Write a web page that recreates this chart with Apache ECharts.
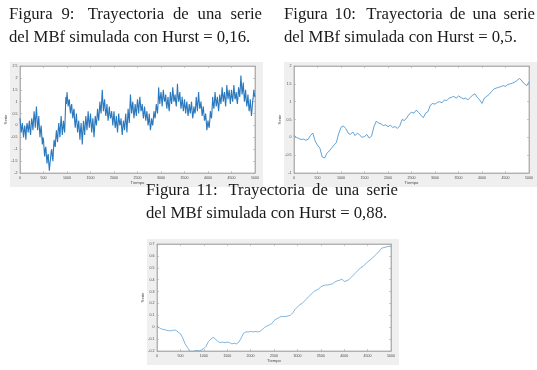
<!DOCTYPE html>
<html><head><meta charset="utf-8">
<script src="https://cdn.jsdelivr.net/npm/echarts@6/dist/echarts.min.js"></script>
<style>html,body{margin:0;padding:0;background:#fff}#c{width:537px;height:370px}</style>
</head><body><div id="c"></div>
<script>
// ---------- data ----------
const timeMax = 5000;
const xTickStep = 500;
// Figure 9: Hurst = 0.16, one value every 12.5 time units
const fig9Step = 12.5;
const fig9Values = [
 0.3,0.0,-0.3,-0.1,0.1,-0.2,-0.5,-0.2,0.0,-0.3,-0.6,-0.1,0.1,-0.1,-0.3,0.0,0.2,-0.2,-0.4,0.0,0.3,0.1,-0.2,0.2,0.6,0.3,-0.1,0.4,0.8,0.3,-0.2,0.1,0.4,-0.1,-0.5,-0.2,0.0,-0.4,-0.8,-0.5,
 -0.6,-1.0,-1.3,-1.0,-0.9,-1.3,-1.6,-1.3,-1.2,-1.6,-1.9,-1.6,-1.4,-1.1,-1.0,-1.3,-1.5,-1.0,-0.6,-0.8,-0.9,-0.5,-0.2,-0.5,-0.7,-0.2,0.1,-0.2,-0.5,0.0,0.4,0.0,-0.4,-0.1,0.2,-0.1,-0.3,0.4,1.2,0.9,
 1.4,1.1,0.8,1.0,1.1,0.7,0.5,0.8,0.9,0.5,0.3,0.6,0.7,0.2,-0.1,0.2,0.5,0.1,-0.3,0.0,0.2,-0.2,-0.6,-0.2,0.1,-0.3,-0.8,-0.3,0.2,-0.1,-0.4,0.0,0.4,0.1,-0.2,0.2,0.6,0.2,-0.1,0.2,
 0.5,0.1,-0.3,0.0,0.3,-0.1,-0.5,-0.1,0.4,0.2,0.0,0.3,0.7,0.4,0.2,0.6,1.0,0.7,0.5,1.0,1.5,1.0,0.6,0.9,1.1,0.7,0.4,0.6,0.9,0.5,0.2,0.5,0.8,0.5,0.3,0.4,0.6,0.3,0.0,0.3,
 0.6,0.2,-0.1,0.1,0.4,0.0,-0.3,0.1,0.5,0.2,0.0,0.1,0.3,-0.1,-0.4,-0.1,0.2,0.0,-0.2,0.2,0.5,0.1,-0.3,0.2,0.7,0.4,0.1,0.7,1.3,0.9,0.5,0.8,1.0,0.6,0.3,0.6,0.9,0.6,0.4,0.8,
 1.1,0.8,0.5,0.9,1.2,0.9,0.6,0.7,0.9,0.6,0.3,0.5,0.8,0.5,0.2,0.4,0.6,0.3,0.0,0.2,0.5,0.1,-0.2,0.0,0.3,0.1,0.0,0.3,0.6,0.4,0.3,0.6,0.9,0.7,0.5,0.9,1.6,1.2,0.9,1.2,
 1.4,1.1,0.8,1.2,1.5,1.2,1.0,1.1,1.3,0.9,0.7,1.0,1.2,0.8,0.6,1.0,1.4,1.1,0.9,1.2,1.6,1.3,1.0,1.1,1.3,1.0,0.8,1.2,1.75,1.3,1.0,1.2,1.4,1.0,0.7,0.9,1.2,0.9,0.6,0.8,
 1.1,0.8,0.5,0.8,1.0,0.7,0.4,0.6,0.9,0.7,0.5,0.8,1.0,0.6,0.3,0.5,0.8,0.6,0.5,0.8,1.2,0.9,0.6,1.0,1.4,1.0,0.7,0.8,1.0,0.7,0.4,0.6,0.8,0.5,0.2,0.3,0.5,0.2,-0.2,0.0,
 0.2,0.0,-0.1,0.2,0.6,0.4,0.3,0.7,1.2,0.9,0.7,1.0,1.4,1.1,0.8,1.0,1.2,0.9,0.6,0.9,1.3,1.1,0.9,1.2,1.6,1.3,1.0,1.2,1.4,1.1,0.8,1.2,1.7,1.4,1.1,1.3,1.5,1.2,0.9,1.2,
 1.5,1.2,1.0,1.3,1.7,1.4,1.1,1.2,1.4,1.1,0.9,1.2,1.6,1.4,1.2,1.6,2.1,1.7,1.3,1.5,1.8,1.4,1.0,1.2,1.5,1.1,0.8,1.0,1.3,0.9,0.6,0.8,1.1,0.7,0.4,0.7,1.0,1.2,1.5,1.3,
 1.2
];
// Figure 10: Hurst = 0.5, one value every 50 time units
const fig10Step = 50;
const fig10Values = [
 0.05,0.0,-0.03,-0.06,-0.05,-0.08,-0.06,0.05,0.12,-0.1,
 -0.22,-0.3,-0.55,-0.58,-0.45,-0.38,-0.3,-0.22,-0.15,0.1,
 0.28,0.32,0.25,0.12,0.08,0.15,0.05,0.12,0.06,0.0,
 0.02,0.08,-0.02,0.03,0.3,0.45,0.4,0.38,0.33,0.35,
 0.3,0.34,0.28,0.3,0.25,0.32,0.5,0.47,0.55,0.65,
 0.7,0.68,0.76,0.7,0.62,0.55,0.68,0.72,0.9,0.95,
 0.93,0.98,1.0,0.97,1.05,1.03,1.1,1.12,1.15,1.1,
 1.16,1.12,1.08,1.1,1.05,1.12,1.18,1.22,1.12,1.05,
 0.95,1.1,1.15,1.2,1.28,1.35,1.38,1.4,1.42,1.45,
 1.43,1.48,1.5,1.52,1.55,1.6,1.65,1.58,1.5,1.45,
 1.55
];
// Figure 11: Hurst = 0.88, one value every 50 time units
const fig11Step = 50;
const fig11Values = [
 0.01,-0.005,-0.015,-0.02,-0.025,-0.03,-0.03,-0.025,-0.025,-0.04,
 -0.055,-0.09,-0.14,-0.17,-0.2,-0.205,-0.2,-0.195,-0.2,-0.19,
 -0.18,-0.16,-0.12,-0.1,-0.085,-0.1,-0.12,-0.13,-0.125,-0.13,
 -0.125,-0.13,-0.14,-0.135,-0.14,-0.125,-0.09,-0.05,-0.04,-0.04,
 -0.035,-0.04,-0.035,-0.04,-0.035,-0.02,0.0,0.01,0.02,0.03,
 0.055,0.07,0.08,0.09,0.09,0.09,0.095,0.1,0.12,0.15,
 0.17,0.19,0.2,0.22,0.24,0.26,0.28,0.3,0.31,0.32,
 0.34,0.35,0.355,0.355,0.36,0.365,0.38,0.39,0.395,0.405,
 0.385,0.39,0.4,0.42,0.44,0.46,0.48,0.5,0.51,0.53,
 0.55,0.565,0.58,0.6,0.62,0.64,0.665,0.67,0.675,0.68,
 0.68
];
// y-axis ranges [min, max, interval]
const fig9YAxis = [-2, 2.5, 0.5];
const fig10YAxis = [-1, 2, 0.5];
const fig11YAxis = [-0.2, 0.7, 0.1];
const xAxisName = 'Tiempo';
const yAxisName = 'Serie';
const captions = [
  ['Figura 9: Trayectoria de una serie', 'del MBf simulada con Hurst = 0,16.'],
  ['Figura 10: Trayectoria de una serie', 'del MBf simulada con Hurst = 0,5.'],
  ['Figura 11: Trayectoria de una serie', 'del MBf simulada con Hurst = 0,88.']
];

// ---------- layout ----------
const grids = [
  {left: 20, top: 66, width: 235, height: 107},
  {left: 294, top: 66, width: 235, height: 107},
  {left: 157, top: 244, width: 234, height: 107}
];
const panels = [
  {x: 10, y: 62, width: 253, height: 125},
  {x: 284, y: 62, width: 253, height: 125},
  {x: 147, y: 239, width: 252, height: 126}
];
const captionBoxes = [
  {x0: 9, x1: 262, y: 15},
  {x0: 284, x1: 535, y: 15},
  {x0: 146, x1: 398, y: 191}
];
const lineGap = 23;
const capFont = '16.7px "Liberation Serif", "Times New Roman", serif';

const axisGrey = '#a8a8a8';
const labelColor = '#4a4a4a';

function toPairs(vals, step) { return vals.map((v, i) => [i * step, v]); }

const xAxes = [], yAxes = [];
function addAxes(gi, yr) {
  const base = {
    gridIndex: gi, type: 'value',
    axisLine: {show: true, onZero: false, lineStyle: {color: axisGrey, width: 0.8}},
    axisTick: {show: true, inside: true, length: 2, lineStyle: {color: axisGrey, width: 0.6}},
    splitLine: {show: false}
  };
  xAxes.push(Object.assign({}, base, {
    position: 'bottom', min: 0, max: timeMax, interval: xTickStep,
    axisLabel: {fontSize: 3.6, color: labelColor, margin: 2.5, formatter: v => String(v)},
    name: xAxisName, nameLocation: 'middle', nameGap: 7,
    nameTextStyle: {fontSize: 4.2, color: labelColor}
  }));
  xAxes.push(Object.assign({}, base, {
    position: 'top', min: 0, max: timeMax, interval: xTickStep,
    axisLabel: {show: false}
  }));
  yAxes.push(Object.assign({}, base, {
    position: 'left', min: yr[0], max: yr[1], interval: yr[2],
    axisLabel: {fontSize: 3.6, color: labelColor, margin: 2.5},
    name: yAxisName, nameLocation: 'middle', nameGap: 8, nameRotate: 90,
    nameTextStyle: {fontSize: 4.2, color: labelColor}
  }));
  yAxes.push(Object.assign({}, base, {
    position: 'right', min: yr[0], max: yr[1], interval: yr[2],
    axisLabel: {show: false}
  }));
}
addAxes(0, fig9YAxis);
addAxes(1, fig10YAxis);
addAxes(2, fig11YAxis);

// justified caption words
const mctx = document.createElement('canvas').getContext('2d');
mctx.font = capFont;
const graphics = [];
panels.forEach(p => graphics.push({type: 'rect', z: -10, shape: p, style: {fill: '#efefef'}}));
captions.forEach((cap, ci) => {
  const box = captionBoxes[ci];
  const words = cap[0].split(' ');
  const widths = words.map(w => mctx.measureText(w).width);
  const total = widths.reduce((a, b) => a + b, 0);
  const weights = words.slice(0, -1).map(w => w.endsWith(':') ? 1.5 : 1);
  const wsum = weights.reduce((a, b) => a + b, 0);
  const unit = (box.x1 - box.x0 - total) / wsum;
  let x = box.x0;
  words.forEach((w, i) => {
    graphics.push({type: 'text', x: x, y: box.y, style: {text: w, font: capFont, fill: '#1a1a1a', textVerticalAlign: 'middle', textAlign: 'left'}});
    x += widths[i] + (i < weights.length ? unit * weights[i] : 0);
  });
  graphics.push({type: 'text', x: box.x0, y: box.y + lineGap, style: {text: cap[1], font: capFont, fill: '#1a1a1a', textVerticalAlign: 'middle', textAlign: 'left'}});
});

const chart = echarts.init(document.getElementById('c'), null, {renderer: 'canvas'});
chart.setOption({
  animation: false,
  backgroundColor: '#ffffff',
  grid: grids.map(g => Object.assign({show: true, backgroundColor: '#ffffff', borderColor: axisGrey, borderWidth: 0.8, containLabel: false}, g)),
  xAxis: xAxes,
  yAxis: yAxes,
  graphic: graphics,
  series: [
    {type: 'line', xAxisIndex: 0, yAxisIndex: 0, data: toPairs(fig9Values, fig9Step), symbol: 'none', lineStyle: {width: 1.1, color: '#2a78bd'}},
    {type: 'line', xAxisIndex: 2, yAxisIndex: 2, data: toPairs(fig10Values, fig10Step), symbol: 'none', lineStyle: {width: 0.8, color: '#3b8ccc'}},
    {type: 'line', xAxisIndex: 4, yAxisIndex: 4, data: toPairs(fig11Values, fig11Step), symbol: 'none', lineStyle: {width: 0.7, color: '#4a96d2'}}
  ]
});
</script>
</body></html>
